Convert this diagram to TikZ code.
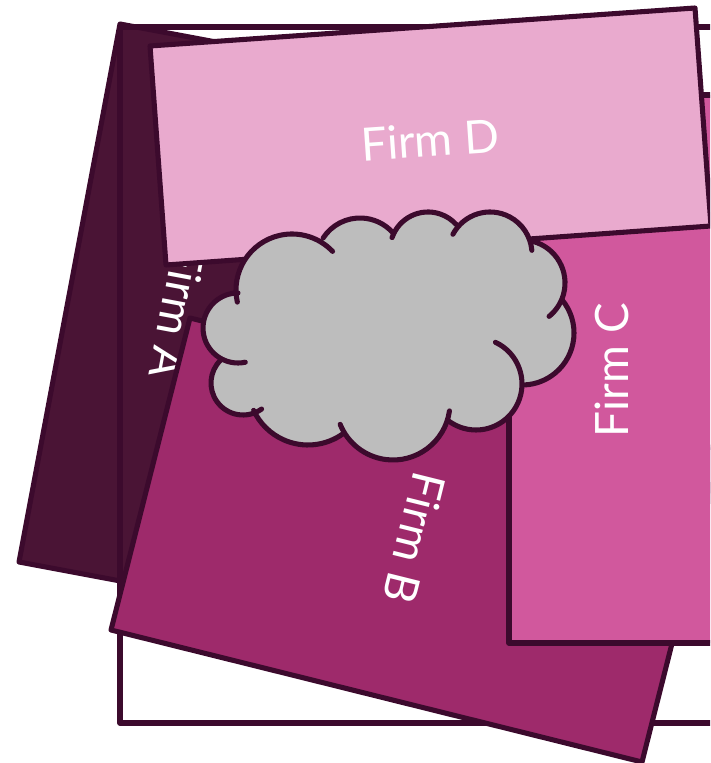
\documentclass[tikz,border=0pt]{standalone}
\usepackage{fontspec}
\setmainfont{Lato}
\definecolor{FirmLine}{RGB}{60, 10, 45}
\definecolor{FirmAColor}{RGB}{74, 20, 53}
\definecolor{FirmBColor}{RGB}{158, 42, 107}
\definecolor{FirmCColor}{RGB}{209, 88, 157}
\definecolor{FirmDColor}{RGB}{233, 170, 206}
\definecolor{CloudGrey}{RGB}{189, 189, 189}
\tikzset{
    firmbox/.style={draw=FirmLine, line width=3.8pt, line join=round},
    firmlabel/.style={text=white, font=\fontsize{34.5}{34.5}\selectfont, inner sep=0pt},
    cloudline/.style={draw=FirmLine, line width=3.8pt, line cap=round}
}

\begin{document}
\begin{tikzpicture}[x=0.75pt, y=0.75pt]
    \useasboundingbox (0,0) rectangle (710,763);
    \clip (0,0) rectangle (710,763);

    \draw[firmbox, fill=FirmAColor] (120,739) -- (19,201) -- (419,126) -- (520,664) -- cycle;
    \node[firmlabel, rotate=-100.6] (firma) at (178,451) {Firm A};
    \draw[firmbox] (730,736) -- (120,736) -- (120,40) -- (730,40);
    \draw[firmbox, fill=FirmBColor] (190,445) -- (111,133) -- (642,1) -- (721,313) -- cycle;
    \node[firmlabel, rotate=-104] (firmb) at (415,225) {Firm B};
    \draw[firmbox, fill=FirmCColor] (509,120) -- (509,668) -- (730,668) -- (730,120) -- cycle;
    \node[firmlabel, rotate=90] (firmc) at (612,393) {Firm C};
    \draw[firmbox, fill=FirmDColor] (150,717) -- (695,755) -- (711,537) -- (166,498) -- cycle;
    \node[firmlabel, rotate=4] (firmd) at (430,623) {Firm D};

    % cloud: grey body first, then the lobes' outline
    \fill[CloudGrey] (292,473) -- (360,501) -- (428,513) -- (490,509) -- (522,480) -- (522,430)
        -- (476,379) -- (393,360) -- (308,378) -- (243,380) -- (238,435) -- cycle;
    \foreach \cx/\cy/\rad/\from/\to in {292/473/56/192.5/43.6, 360/501/44/147/42, 428/513/38/161/42,
        490/509/42/152/5, 522/480/43/75/-51, 522/430/52/39.5/-87, 476/379/46/65/-126, 393/360/57/-8/-158,
        308/378/60/-54/-155, 243/380/32/-54.5/-225, 238/435/35/-78/-270} {
        \fill[CloudGrey] (\cx,\cy) circle[radius=\rad];
    }
    \foreach \cx/\cy/\rad/\from/\to in {292/473/56/192.5/43.6, 360/501/44/147/42, 428/513/38/161/42,
        490/509/42/152/5, 522/480/43/75/-51, 522/430/52/39.5/-87, 476/379/46/65/-126, 393/360/57/-8/-158,
        308/378/60/-54/-155, 243/380/32/-54.5/-225, 238/435/35/-78/-270} {
        \draw[cloudline] (\cx,\cy) ++(\from:\rad) arc[start angle=\from, end angle=\to, radius=\rad];
    }
\end{tikzpicture}
\end{document}
